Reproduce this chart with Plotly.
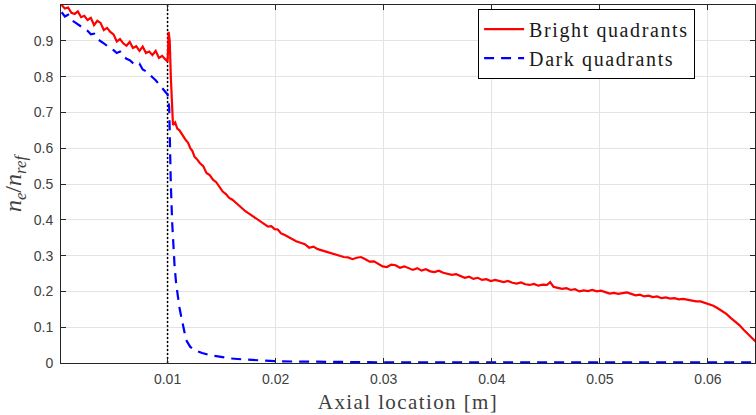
import plotly.graph_objects as go

# ---------------- data ----------------
bright_x = [0.0002, 0.0005, 0.0008, 0.0011, 0.0014, 0.0017, 0.0020, 0.0023, 0.0026, 0.0029,
            0.0032, 0.0035, 0.0038, 0.0041, 0.0044, 0.0047, 0.0050, 0.0053, 0.0056, 0.0059,
            0.0062, 0.0065, 0.0068, 0.0071, 0.0074, 0.0077, 0.0080, 0.0083, 0.0086, 0.0089,
            0.0092, 0.0095, 0.0098, 0.0100, 0.0101, 0.0102, 0.0103, 0.0104, 0.0105, 0.0107,
            0.0109, 0.0111, 0.0113, 0.0115, 0.0117, 0.0119, 0.0121, 0.0123, 0.0125, 0.0127,
            0.0130, 0.0133, 0.0136, 0.0139, 0.0142, 0.0145, 0.0148, 0.0151, 0.0154, 0.0157,
            0.0160, 0.0163, 0.0166, 0.0169, 0.0172, 0.0175, 0.0178, 0.0181, 0.0184, 0.0187,
            0.0190, 0.0193, 0.0196, 0.0199, 0.0202, 0.0205, 0.0208, 0.0211, 0.0215, 0.0219,
            0.0223, 0.0227, 0.0231, 0.0235, 0.0239, 0.0243, 0.0247, 0.0251, 0.0255, 0.0259,
            0.0263, 0.0267, 0.0271, 0.0275, 0.0279, 0.0283, 0.0287, 0.0291, 0.0295, 0.0299,
            0.0303, 0.0307, 0.0311, 0.0315, 0.0319, 0.0323, 0.0327, 0.0331, 0.0335, 0.0339,
            0.0343, 0.0347, 0.0351, 0.0355, 0.0359, 0.0363, 0.0367, 0.0371, 0.0375, 0.0379,
            0.0383, 0.0387, 0.0391, 0.0395, 0.0399, 0.0403, 0.0407, 0.0411, 0.0415, 0.0419,
            0.0423, 0.0427, 0.0431, 0.0435, 0.0439, 0.0443, 0.0447, 0.0451, 0.0454, 0.0457,
            0.0461, 0.0465, 0.0469, 0.0473, 0.0477, 0.0481, 0.0485, 0.0489, 0.0493, 0.0497,
            0.0501, 0.0505, 0.0509, 0.0513, 0.0517, 0.0521, 0.0525, 0.0529, 0.0533, 0.0537,
            0.0541, 0.0545, 0.0549, 0.0553, 0.0557, 0.0561, 0.0565, 0.0569, 0.0573, 0.0577,
            0.0581, 0.0585, 0.0589, 0.0593, 0.0597, 0.0601, 0.0605, 0.0609, 0.0613, 0.0617,
            0.0621, 0.0625, 0.0629, 0.0633, 0.0637, 0.0641, 0.0644]
bright_y = [1.000, 0.990, 0.993, 0.978, 0.975, 0.982, 0.966, 0.970, 0.958, 0.964,
            0.944, 0.956, 0.950, 0.930, 0.936, 0.925, 0.918, 0.898, 0.905, 0.893,
            0.886, 0.897, 0.880, 0.885, 0.872, 0.884, 0.866, 0.870, 0.860, 0.872,
            0.852, 0.858, 0.848, 0.842, 0.925, 0.900, 0.800, 0.700, 0.665, 0.672,
            0.655, 0.650, 0.640, 0.632, 0.622, 0.615, 0.600, 0.592, 0.576, 0.570,
            0.558, 0.550, 0.531, 0.525, 0.512, 0.505, 0.492, 0.479, 0.472, 0.461,
            0.456, 0.448, 0.438, 0.432, 0.424, 0.418, 0.412, 0.405, 0.398, 0.392,
            0.386, 0.381, 0.382, 0.374, 0.373, 0.362, 0.358, 0.353, 0.347, 0.340,
            0.336, 0.332, 0.322, 0.325, 0.318, 0.314, 0.310, 0.306, 0.302, 0.300,
            0.296, 0.295, 0.290, 0.294, 0.296, 0.290, 0.283, 0.284, 0.278, 0.270,
            0.268, 0.275, 0.273, 0.266, 0.270, 0.264, 0.260, 0.265, 0.258, 0.262,
            0.256, 0.254, 0.258, 0.252, 0.250, 0.246, 0.248, 0.243, 0.238, 0.241,
            0.235, 0.238, 0.232, 0.234, 0.229, 0.232, 0.228, 0.226, 0.229, 0.224,
            0.222, 0.225, 0.220, 0.218, 0.221, 0.216, 0.219, 0.218, 0.226, 0.213,
            0.210, 0.207, 0.209, 0.204, 0.206, 0.200, 0.203, 0.201, 0.204, 0.200,
            0.202, 0.197, 0.194, 0.196, 0.193, 0.195, 0.197, 0.193, 0.189, 0.191,
            0.186, 0.188, 0.184, 0.186, 0.181, 0.183, 0.180, 0.181, 0.178, 0.179,
            0.176, 0.175, 0.172, 0.172, 0.168, 0.165, 0.160, 0.153, 0.146, 0.137,
            0.126, 0.117, 0.106, 0.093, 0.080, 0.068, 0.060]

dark_x = [0.0002, 0.0005, 0.0008, 0.0011, 0.0014, 0.0017, 0.0020, 0.0023, 0.0026, 0.0029,
          0.0032, 0.0035, 0.0038, 0.0041, 0.0044, 0.0047, 0.0050, 0.0053, 0.0056, 0.0059,
          0.0062, 0.0065, 0.0068, 0.0071, 0.0074, 0.0077, 0.0080, 0.0083, 0.0086, 0.0089,
          0.0092, 0.0095, 0.0098, 0.0100, 0.01015, 0.0102, 0.0103, 0.01043, 0.01055, 0.01065,
          0.0108, 0.01095, 0.0111, 0.01126, 0.0115, 0.01172, 0.0121, 0.0125, 0.0132, 0.0139,
          0.0148, 0.0157, 0.0170, 0.0185, 0.0200, 0.0220, 0.0250, 0.0300, 0.0350, 0.0400,
          0.0450, 0.0500, 0.0550, 0.0600, 0.0644]
dark_y = [0.980, 0.968, 0.973, 0.958, 0.952, 0.946, 0.940, 0.932, 0.928, 0.918,
          0.920, 0.905, 0.900, 0.893, 0.886, 0.882, 0.874, 0.866, 0.870, 0.856,
          0.850, 0.846, 0.838, 0.832, 0.836, 0.820, 0.815, 0.808, 0.798, 0.790,
          0.779, 0.768, 0.758, 0.750, 0.715, 0.620, 0.500, 0.390, 0.320, 0.270,
          0.220, 0.185, 0.155, 0.130, 0.095, 0.064, 0.045, 0.036, 0.028, 0.022,
          0.018, 0.013, 0.010, 0.007, 0.005, 0.004, 0.003, 0.002, 0.002, 0.002,
          0.002, 0.002, 0.002, 0.002, 0.002]

marker_x = [0.01, 0.01]
marker_y = [0, 1]

x_ticks = [0.01, 0.02, 0.03, 0.04, 0.05, 0.06]
x_ticklabels = ["0.01", "0.02", "0.03", "0.04", "0.05", "0.06"]
y_ticks = [0, 0.1, 0.2, 0.3, 0.4, 0.5, 0.6, 0.7, 0.8, 0.9, 1]
y_ticklabels = ["0", "0.1", "0.2", "0.3", "0.4", "0.5", "0.6", "0.7", "0.8", "0.9", "1"]

# ---------------- figure ----------------
SERIF = "Liberation Serif, DejaVu Serif, serif"
SANS = "Liberation Sans, Arial, sans-serif"
AX = "#262626"


def wide(t, ls):
    return '<span style="letter-spacing:%spx">%s</span>' % (ls, t)


fig = go.Figure()
fig.add_trace(go.Scatter(x=marker_x, y=marker_y, mode="lines", showlegend=False,
                         line=dict(color="black", width=1.5, dash="2px,2px"),
                         hoverinfo="skip"))
fig.add_trace(go.Scatter(x=bright_x, y=bright_y, mode="lines",
                         name=wide("Bright quadrants", 1.6),
                         line=dict(color="#ff0000", width=2.2)))
fig.add_trace(go.Scatter(x=dark_x, y=dark_y, mode="lines",
                         name=wide("Dark quadrants", 1.6),
                         line=dict(color="#0000ff", width=2.2, dash="10px,7px")))

axis_common = dict(showgrid=True, gridcolor="#e3e3e3", gridwidth=1,
                   showline=True, linecolor=AX, linewidth=1, mirror="ticks",
                   ticks="inside", ticklen=5, tickcolor=AX, tickwidth=1,
                   tickfont=dict(family=SANS, size=14, color="#404040"),
                   zeroline=False)

fig.update_layout(
    width=756, height=415,
    margin=dict(l=61, r=1, t=5, b=52),
    paper_bgcolor="white", plot_bgcolor="white",
    xaxis=dict(range=[0.00014, 0.06435], tickvals=x_ticks, ticktext=x_ticklabels,
               ticklabelstandoff=3,
               title=dict(text=wide("Axial location [m]", 1.4), standoff=8,
                          font=dict(family=SERIF, size=21, color="#404040")),
               **axis_common),
    yaxis=dict(range=[0, 1], tickvals=y_ticks, ticktext=y_ticklabels,
               ticklabelstandoff=4,
               title=dict(text="<i>n<sub>e</sub></i>/<i>n<sub>ref</sub></i>", standoff=6,
                          font=dict(family=SERIF, size=24, color="#404040")),
               **axis_common),
    legend=dict(x=0.601, y=0.99, xanchor="left", yanchor="top",
                bgcolor="white", bordercolor="black", borderwidth=1,
                font=dict(family=SERIF, size=20, color="#1a1a1a"),
                tracegroupgap=0, itemwidth=40),
    showlegend=True,
)

fig.write_html("out.html")
